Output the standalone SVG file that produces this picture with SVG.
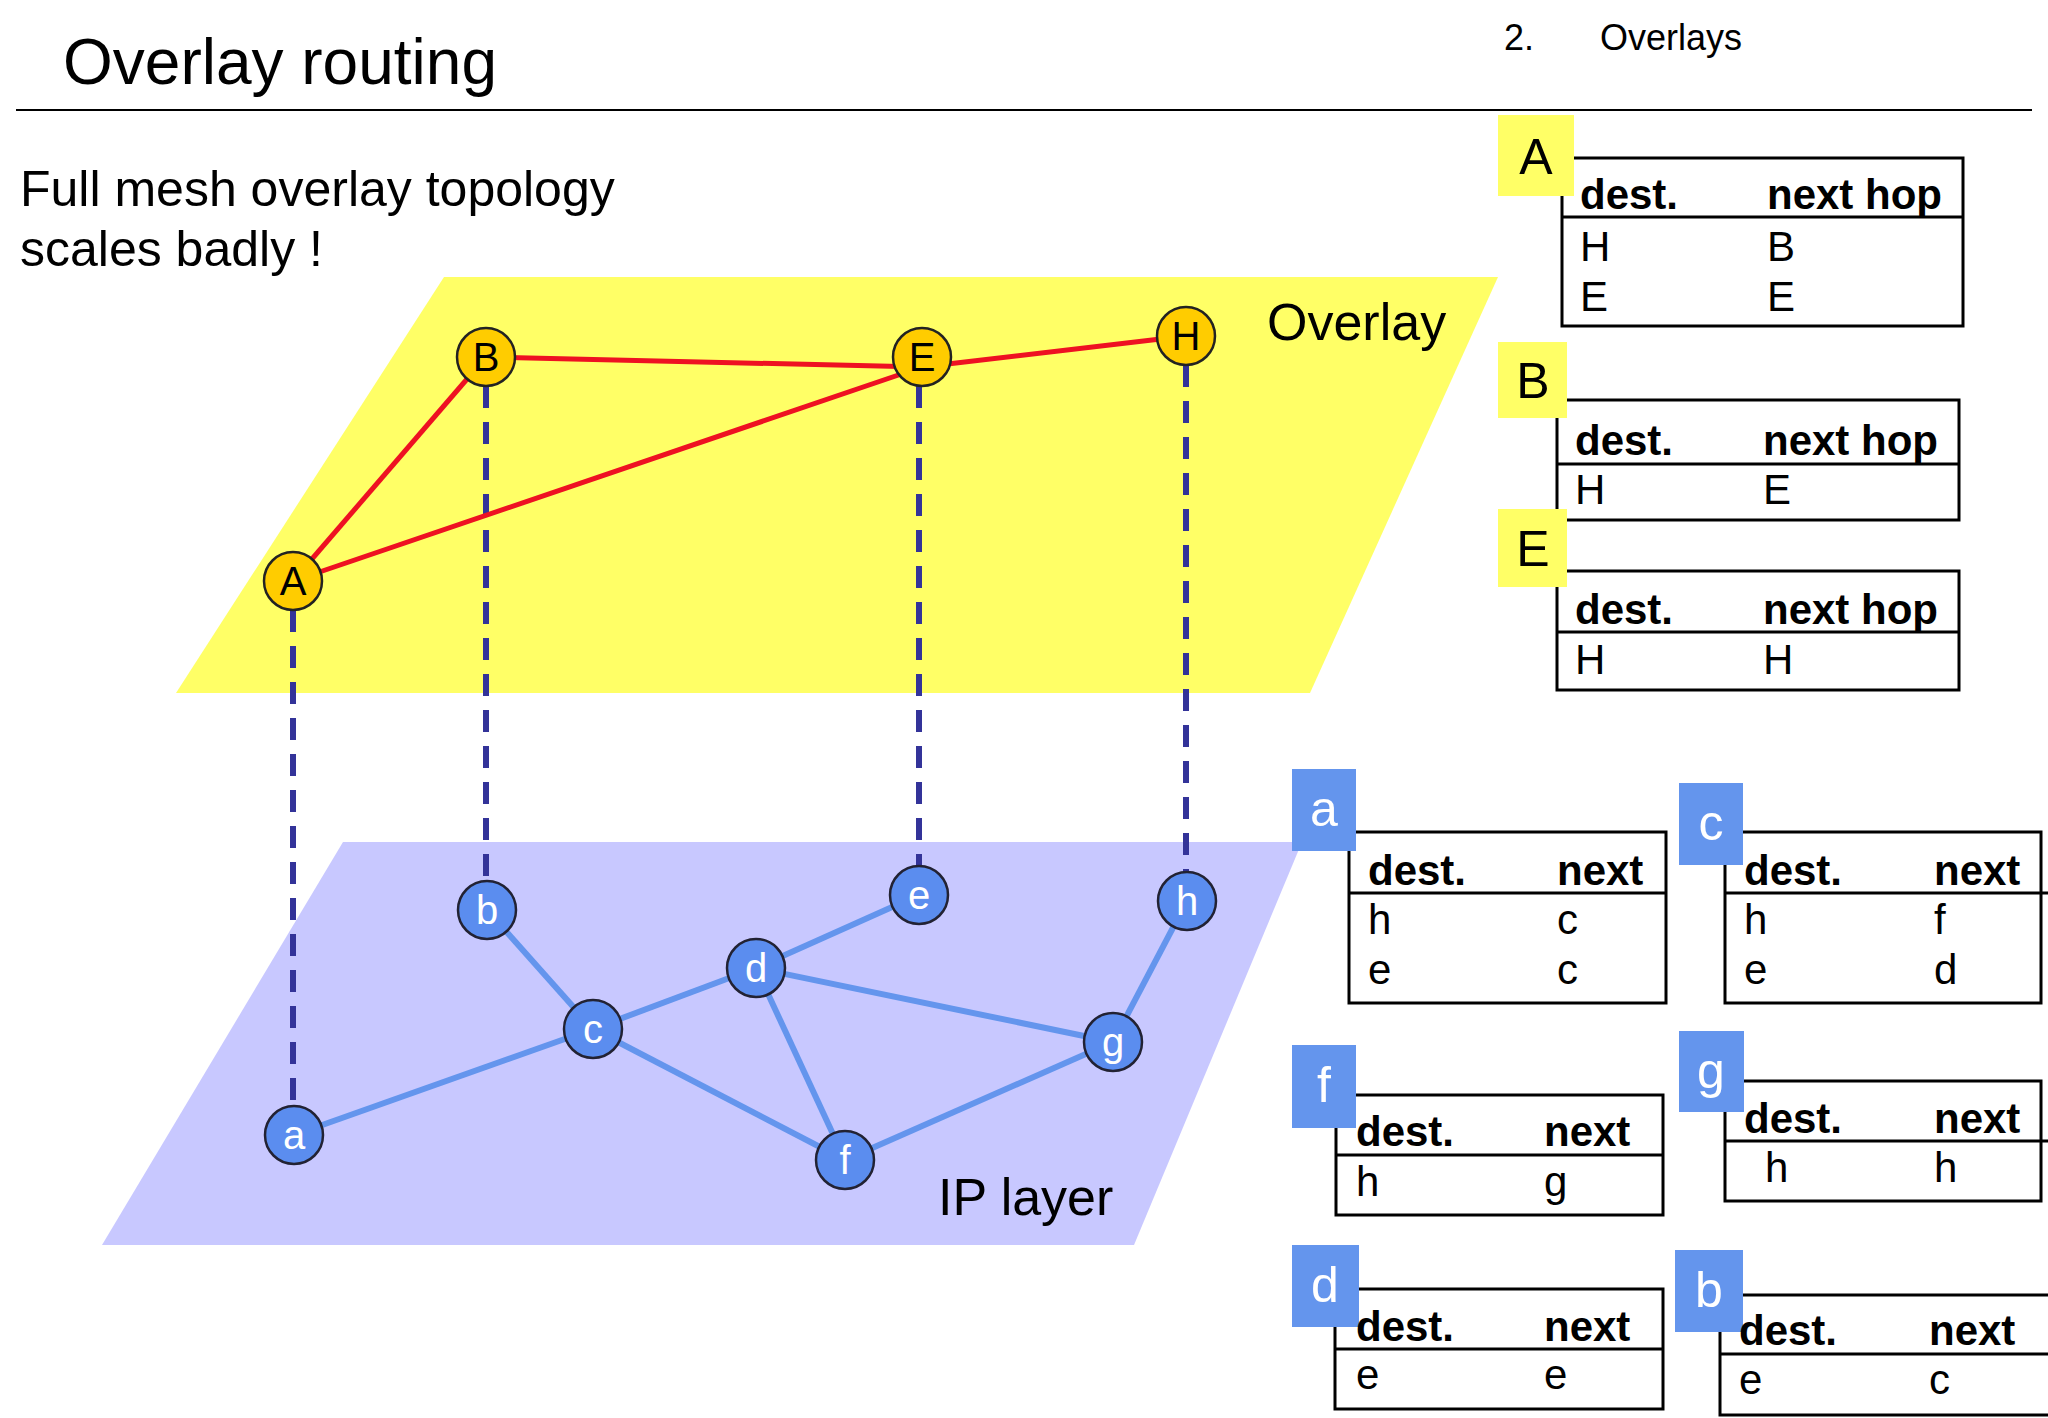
<svg xmlns="http://www.w3.org/2000/svg" width="2048" height="1418" viewBox="0 0 2048 1418">
<style>
text{font-family:"Liberation Sans",Arial,sans-serif;}
.t{font-size:42px;fill:#000}
.h{font-size:42px;font-weight:bold;fill:#000}
.tb{fill:#fff;stroke:#000;stroke-width:3}
.hl{stroke:#000;stroke-width:3}
.yl{fill:#FFFF66}
.bl{fill:#6495ED}
.lt{font-size:50px;text-anchor:middle}
.on{fill:#FFCC00;stroke:#222;stroke-width:2.5}
.ip{fill:#5B8DEF;stroke:#223;stroke-width:2.5}
.nt{font-size:40px;text-anchor:middle}
.red{stroke:#EE1122;stroke-width:5}
.blu{stroke:#6495ED;stroke-width:6}
.dash{stroke:#333399;stroke-width:6;stroke-dasharray:22 14}
</style>
<rect width="2048" height="1418" fill="#fff"/>
<text x="63" y="84" style="font-size:64px">Overlay routing</text>
<text x="1504" y="50" style="font-size:36px">2.</text>
<text x="1600" y="50" style="font-size:36px">Overlays</text>
<line x1="16" y1="110" x2="2032" y2="110" stroke="#000" stroke-width="2"/>
<text x="20" y="206" style="font-size:50px">Full mesh overlay topology</text>
<text x="20" y="266" style="font-size:50px">scales badly !</text>
<polygon points="444,277 1498,277 1310,693 176,693" fill="#FFFF66"/>
<polygon points="343,842 1302,842 1134,1245 102,1245" fill="#C8C8FF"/>
<text x="1267" y="340" style="font-size:52px">Overlay</text>
<text x="938" y="1215" style="font-size:52px">IP layer</text>
<g id="connectors">
<line class="dash" x1="293" y1="610" x2="293" y2="1104"/>
<line class="dash" x1="486" y1="386" x2="486" y2="880"/>
<line class="dash" x1="919" y1="386" x2="919" y2="866"/>
<line class="dash" x1="1186" y1="365" x2="1186" y2="872"/>
<line class="red" x1="486" y1="357" x2="922" y2="367"/>
<line class="red" x1="922" y1="367" x2="1186" y2="336"/>
<line class="red" x1="293" y1="581" x2="486" y2="357"/>
<line class="red" x1="293" y1="581" x2="922" y2="367"/>
<line class="blu" x1="487" y1="910" x2="593" y2="1029"/>
<line class="blu" x1="593" y1="1029" x2="756" y2="968"/>
<line class="blu" x1="756" y1="968" x2="919" y2="895"/>
<line class="blu" x1="756" y1="968" x2="1113" y2="1042"/>
<line class="blu" x1="756" y1="968" x2="845" y2="1160"/>
<line class="blu" x1="593" y1="1029" x2="845" y2="1160"/>
<line class="blu" x1="593" y1="1029" x2="294" y2="1135"/>
<line class="blu" x1="845" y1="1160" x2="1113" y2="1042"/>
<line class="blu" x1="1113" y1="1042" x2="1187" y2="901"/>
</g>
<g id="node-A"><circle class="on" cx="293" cy="581" r="29"/><text class="nt" x="293" y="595">A</text></g>
<g id="node-B"><circle class="on" cx="486" cy="357" r="29"/><text class="nt" x="486" y="371">B</text></g>
<g id="node-E"><circle class="on" cx="922" cy="357" r="29"/><text class="nt" x="922" y="371">E</text></g>
<g id="node-H"><circle class="on" cx="1186" cy="336" r="29"/><text class="nt" x="1186" y="350">H</text></g>
<g id="node-a"><circle class="ip" cx="294" cy="1135" r="29"/><text class="nt" x="294" y="1149" fill="#fff">a</text></g>
<g id="node-b"><circle class="ip" cx="487" cy="910" r="29"/><text class="nt" x="487" y="924" fill="#fff">b</text></g>
<g id="node-c"><circle class="ip" cx="593" cy="1029" r="29"/><text class="nt" x="593" y="1043" fill="#fff">c</text></g>
<g id="node-d"><circle class="ip" cx="756" cy="968" r="29"/><text class="nt" x="756" y="982" fill="#fff">d</text></g>
<g id="node-e"><circle class="ip" cx="919" cy="895" r="29"/><text class="nt" x="919" y="909" fill="#fff">e</text></g>
<g id="node-f"><circle class="ip" cx="845" cy="1160" r="29"/><text class="nt" x="845" y="1174" fill="#fff">f</text></g>
<g id="node-g"><circle class="ip" cx="1113" cy="1042" r="29"/><text class="nt" x="1113" y="1056" fill="#fff">g</text></g>
<g id="node-h"><circle class="ip" cx="1187" cy="901" r="29"/><text class="nt" x="1187" y="915" fill="#fff">h</text></g>

<g id="table-A">
<rect class="tb" x="1562" y="158" width="401" height="168"/>
<line class="hl" x1="1562" y1="217" x2="1963" y2="217"/>
<rect class="yl" x="1498" y="115" width="76" height="81"/>
<text class="lt" x="1536" y="174">A</text>
<text class="h" x="1580" y="209">dest.</text><text class="h" x="1767" y="209">next hop</text>
<text class="t" x="1580" y="261">H</text><text class="t" x="1767" y="261">B</text>
<text class="t" x="1580" y="311">E</text><text class="t" x="1767" y="311">E</text>
</g>
<g id="table-B">
<rect class="tb" x="1557" y="400" width="402" height="120"/>
<line class="hl" x1="1557" y1="464" x2="1959" y2="464"/>
<rect class="yl" x="1498" y="342" width="69" height="76"/>
<text class="lt" x="1533" y="398" fill="#000">B</text>
<text class="h" x="1575" y="455">dest.</text><text class="h" x="1763" y="455">next hop</text>
<text class="t" x="1575" y="504">H</text><text class="t" x="1763" y="504">E</text>
</g>
<g id="table-E">
<rect class="tb" x="1557" y="571" width="402" height="119"/>
<line class="hl" x1="1557" y1="632" x2="1959" y2="632"/>
<rect class="yl" x="1498" y="509" width="69" height="78"/>
<text class="lt" x="1533" y="566">E</text>
<text class="h" x="1575" y="624">dest.</text><text class="h" x="1763" y="624">next hop</text>
<text class="t" x="1575" y="674">H</text><text class="t" x="1763" y="674">H</text>
</g>
<g id="table-a">
<rect class="tb" x="1349" y="832" width="317" height="171"/>
<line class="hl" x1="1349" y1="893" x2="1666" y2="893"/>
<rect class="bl" x="1292" y="769" width="64" height="82"/>
<text class="lt" x="1324" y="826" fill="#fff">a</text>
<text class="h" x="1368" y="885">dest.</text><text class="h" x="1557" y="885">next</text>
<text class="t" x="1368" y="934">h</text><text class="t" x="1557" y="934">c</text>
<text class="t" x="1368" y="984">e</text><text class="t" x="1557" y="984">c</text>
</g>
<g id="table-c">
<rect class="tb" x="1725" y="832" width="316" height="171"/>
<line class="hl" x1="1725" y1="893" x2="2048" y2="893"/>
<rect class="bl" x="1679" y="783" width="64" height="82"/>
<text class="lt" x="1711" y="840" fill="#fff">c</text>
<text class="h" x="1744" y="885">dest.</text><text class="h" x="1934" y="885">next</text>
<text class="t" x="1744" y="934">h</text><text class="t" x="1934" y="934">f</text>
<text class="t" x="1744" y="984">e</text><text class="t" x="1934" y="984">d</text>
</g>
<g id="table-f">
<rect class="tb" x="1336" y="1095" width="327" height="120"/>
<line class="hl" x1="1336" y1="1155" x2="1663" y2="1155"/>
<rect class="bl" x="1292" y="1045" width="64" height="83"/>
<text class="lt" x="1324" y="1102" fill="#fff">f</text>
<text class="h" x="1356" y="1146">dest.</text><text class="h" x="1544" y="1146">next</text>
<text class="t" x="1356" y="1196">h</text><text class="t" x="1544" y="1196">g</text>
</g>
<g id="table-g">
<rect class="tb" x="1725" y="1081" width="316" height="120"/>
<line class="hl" x1="1725" y1="1141" x2="2048" y2="1141"/>
<rect class="bl" x="1679" y="1031" width="65" height="81"/>
<text class="lt" x="1711" y="1088" fill="#fff">g</text>
<text class="h" x="1744" y="1133">dest.</text><text class="h" x="1934" y="1133">next</text>
<text class="t" x="1765" y="1182">h</text><text class="t" x="1934" y="1182">h</text>
</g>
<g id="table-d">
<rect class="tb" x="1335" y="1289" width="328" height="120"/>
<line class="hl" x1="1335" y1="1349" x2="1663" y2="1349"/>
<rect class="bl" x="1292" y="1245" width="67" height="82"/>
<text class="lt" x="1325" y="1302" fill="#fff">d</text>
<text class="h" x="1356" y="1341">dest.</text><text class="h" x="1544" y="1341">next</text>
<text class="t" x="1356" y="1389">e</text><text class="t" x="1544" y="1389">e</text>
</g>
<g id="table-b">
<rect class="tb" x="1720" y="1295" width="330" height="120"/>
<line class="hl" x1="1720" y1="1354" x2="2048" y2="1354"/>
<rect class="bl" x="1675" y="1250" width="68" height="82"/>
<text class="lt" x="1709" y="1307" fill="#fff">b</text>
<text class="h" x="1739" y="1345">dest.</text><text class="h" x="1929" y="1345">next</text>
<text class="t" x="1739" y="1394">e</text><text class="t" x="1929" y="1394">c</text>
</g>
</svg>
